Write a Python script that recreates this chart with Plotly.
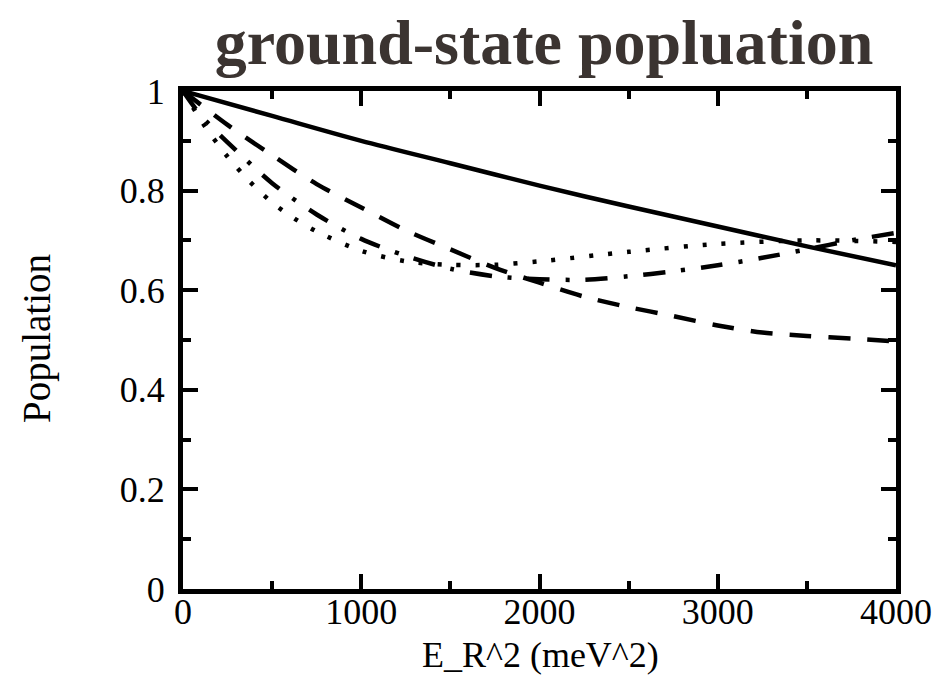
import plotly.graph_objects as go

# Data
x_solid = [0, 500, 1000, 1500, 2000, 2500, 3000, 3500, 4000]
y_solid = [1.0, 0.95, 0.90, 0.855, 0.81, 0.768, 0.728, 0.688, 0.65]

x_dash = [0, 250, 500, 750, 1000, 1250, 1500, 1750, 2000, 2250, 2500, 2750, 3000, 3250, 3500, 3750, 4000]
y_dash = [1.0, 0.932, 0.871, 0.813, 0.766, 0.72, 0.682, 0.645, 0.615, 0.587, 0.566, 0.548, 0.529, 0.515, 0.508, 0.503, 0.497]

x_dashdot = [0, 100, 250, 500, 750, 1000, 1250, 1500, 1750, 2000, 2250, 2500, 2750, 3000, 3250, 3500, 3750, 4000]
y_dashdot = [1.0, 0.951, 0.897, 0.815, 0.752, 0.703, 0.669, 0.643, 0.628, 0.622, 0.621, 0.628, 0.638, 0.65, 0.665, 0.682, 0.70, 0.715]

x_dot = [0, 125, 250, 375, 500, 625, 750, 1000, 1250, 1500, 1750, 2000, 2500, 3000, 3500, 4000]
y_dot = [1.0, 0.928, 0.868, 0.818, 0.776, 0.744, 0.718, 0.679, 0.658, 0.651, 0.651, 0.658, 0.677, 0.693, 0.70, 0.697]

x_ticks = [0, 1000, 2000, 3000, 4000]
x_ticklabels = ["0", "1000", "2000", "3000", "4000"]
y_ticks = [0, 0.2, 0.4, 0.6, 0.8, 1.0]
y_ticklabels = ["0", "0.2", "0.4", "0.6", "0.8", "1"]

title_text = "ground-state popluation"
x_title = "E_R^2 (meV^2)"
y_title = "Population"

serif = "Liberation Serif, Times New Roman, serif"

W, H = 943, 685
ML, MR, MT, MB = 183, 47, 91, 96
PW, PH = W - ML - MR, H - MT - MB

fig = go.Figure()
series = [
    (x_solid, y_solid, "solid"),
    (x_dash, y_dash, "22px,17px"),
    (x_dashdot, y_dashdot, "22px,16px,4px,16px"),
    (x_dot, y_dot, "4px,15px"),
]
for xs, ys, dash in series:
    fig.add_trace(go.Scatter(
        x=xs, y=ys, mode="lines",
        line=dict(color="black", width=4.5, dash=dash, shape="spline", smoothing=0.8),
        showlegend=False, hoverinfo="skip",
    ))

axis_common = dict(
    showline=True, linecolor="black", linewidth=5, mirror="allticks",
    ticks="inside", ticklen=15, tickwidth=4, tickcolor="black",
    showgrid=False, zeroline=False, automargin=False,
    tickfont=dict(family=serif, size=36, color="black"),
)

fig.update_xaxes(
    range=[0, 4000], tickvals=x_ticks, ticktext=x_ticklabels,
    minor=dict(ticks="inside", ticklen=8, tickwidth=4, tickcolor="black", dtick=500, tick0=0, showgrid=False),
    ticklabelstandoff=-13,
    **axis_common,
)
fig.update_yaxes(
    range=[0, 1], tickvals=y_ticks, ticktext=y_ticklabels,
    minor=dict(ticks="inside", ticklen=8, tickwidth=4, tickcolor="black", dtick=0.1, tick0=0, showgrid=False),
    ticklabelstandoff=6,
    **axis_common,
)

fig.add_annotation(
    text=x_title, xref="paper", yref="paper",
    x=(540 - ML) / PW, y=(H - MB - 655) / PH,
    xanchor="center", yanchor="middle", showarrow=False,
    font=dict(family=serif, size=36, color="black"),
)
fig.add_annotation(
    text=y_title, xref="paper", yref="paper",
    x=(37 - ML) / PW, y=(H - MB - 339) / PH,
    xanchor="center", yanchor="middle", showarrow=False, textangle=-90,
    font=dict(family=serif, size=39, color="black"),
)

fig.update_layout(
    width=W, height=H,
    margin=dict(l=ML, r=MR, t=MT, b=MB),
    paper_bgcolor="white", plot_bgcolor="white",
    title=dict(
        text="<b>" + title_text + "</b>",
        font=dict(family=serif, size=64, color="#3b3431"),
        x=(544 - ML) / PW, xref="paper", xanchor="center",
        y=1 - 42 / H, yref="container", yanchor="middle",
    ),
)

fig.write_html("out.html")
